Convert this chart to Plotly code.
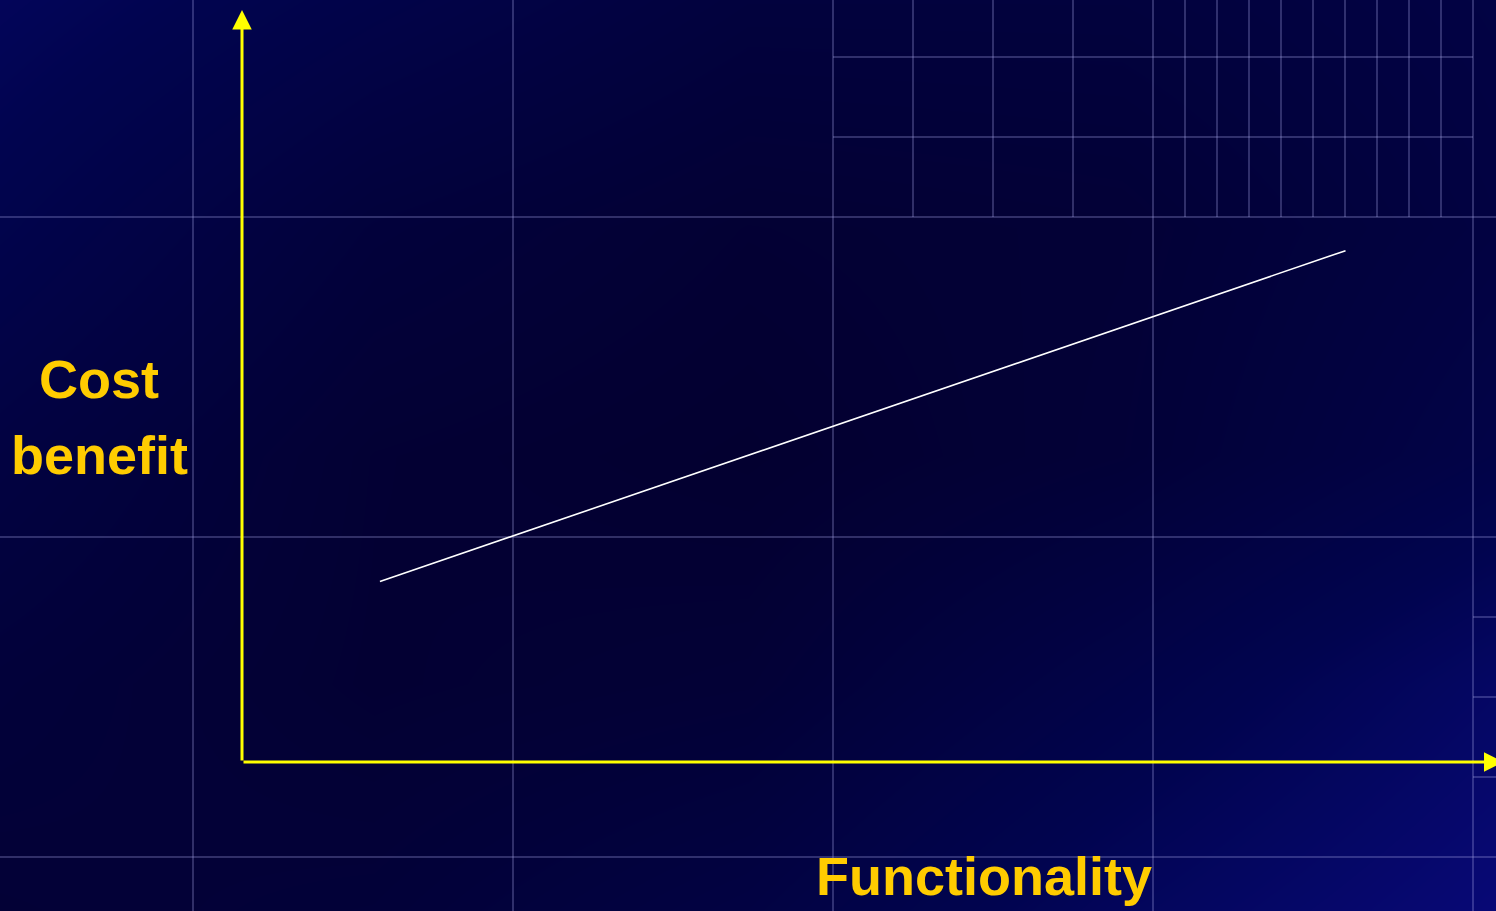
import plotly.graph_objects as go

# ---- data ----
functionality = [11, 88]
cost_benefit = [24, 68]
x_label = "Functionality"
y_label_lines = ["Cost", "benefit"]

W, H = 1496, 911

# ---- decorative background (slide style) ----
bg_cols = [0, 374, 748, 1122, 1496]
bg_rows = [0, 228, 456, 684, 911]
bg_level = [
    [0.60, 0.40, 0.22, 0.22, 0.32],
    [0.45, 0.18, 0.06, 0.10, 0.28],
    [0.28, 0.06, 0.00, 0.12, 0.38],
    [0.16, 0.05, 0.10, 0.38, 0.70],
    [0.10, 0.14, 0.30, 0.62, 0.88],
]
full_v = [193, 513, 833, 1153, 1473]
top_v = [913, 993, 1073, 1185, 1217, 1249, 1281, 1313, 1345, 1377, 1409, 1441]
full_h = [217, 537, 857]
top_h = [57, 137]
edge_h = [617, 697, 777]

gx, gy = [], []
for v in full_v:
    gx += [v, v, None]; gy += [0, H, None]
for v in top_v:
    gx += [v, v, None]; gy += [0, 217, None]
for h in full_h:
    gx += [0, W, None]; gy += [h, h, None]
for h in top_h:
    gx += [833, 1473, None]; gy += [h, h, None]
for h in edge_h:
    gx += [1473, W, None]; gy += [h, h, None]

fig = go.Figure()
fig.add_trace(go.Heatmap(
    x=bg_cols, y=bg_rows, z=bg_level, zsmooth="best", showscale=False,
    zmin=0, zmax=1, hoverinfo="skip",
    colorscale=[[0, "#030030"], [0.5, "#01044f"], [1, "#0a0a82"]],
    xaxis="x", yaxis="y",
))
fig.add_trace(go.Scatter(
    x=gx, y=gy, mode="lines", hoverinfo="skip", showlegend=False,
    line=dict(color="rgba(170,170,235,0.28)", width=2),
    xaxis="x", yaxis="y",
))

# ---- the chart line ----
fig.add_trace(go.Scatter(
    x=functionality, y=cost_benefit, mode="lines", showlegend=False,
    line=dict(color="white", width=1.6),
    xaxis="x2", yaxis="y2",
))

hidden = dict(showgrid=False, zeroline=False, showticklabels=False,
              showline=False, ticks="")
fig.update_layout(
    width=W, height=H,
    margin=dict(l=0, r=0, t=0, b=0),
    paper_bgcolor="#030035", plot_bgcolor="rgba(0,0,0,0)",
    showlegend=False,
    xaxis=dict(range=[0, W], domain=[0, 1], **hidden),
    yaxis=dict(range=[H, 0], domain=[0, 1], **hidden),
    xaxis2=dict(range=[0, 100], domain=[242 / W, 1], anchor="y2", **hidden),
    yaxis2=dict(range=[0, 100], domain=[149 / H, 901 / H], anchor="x2", **hidden),
)

yellow = "#ffff00"
# axes with arrowheads
fig.add_annotation(x=0, y=100, ax=0, ay=0, xref="x2", yref="y2",
                   axref="x2", ayref="y2", showarrow=True, text="",
                   arrowhead=2, arrowsize=1.3, arrowwidth=3, arrowcolor=yellow)
fig.add_annotation(x=100.6, y=0, ax=0, ay=0, xref="x2", yref="y2",
                   axref="x2", ayref="y2", showarrow=True, text="",
                   arrowhead=2, arrowsize=1.3, arrowwidth=3, arrowcolor=yellow)

label_font = dict(family="Liberation Sans, Arial, Helvetica, sans-serif",
                  size=54, color="#ffcc00", weight="bold")
fig.add_annotation(text="<b>" + y_label_lines[0] + "</b>", x=99 / W, y=1 - 379 / H,
                   xref="paper", yref="paper", showarrow=False,
                   xanchor="center", yanchor="middle", font=label_font)
fig.add_annotation(text="<b>" + y_label_lines[1] + "</b>", x=99 / W, y=1 - 455 / H,
                   xref="paper", yref="paper", showarrow=False,
                   xanchor="center", yanchor="middle", font=label_font)
fig.add_annotation(text="<b>" + x_label + "</b>", x=984 / W, y=1 - 876 / H,
                   xref="paper", yref="paper", showarrow=False,
                   xanchor="center", yanchor="middle", font=label_font)

fig.write_html("out.html")
